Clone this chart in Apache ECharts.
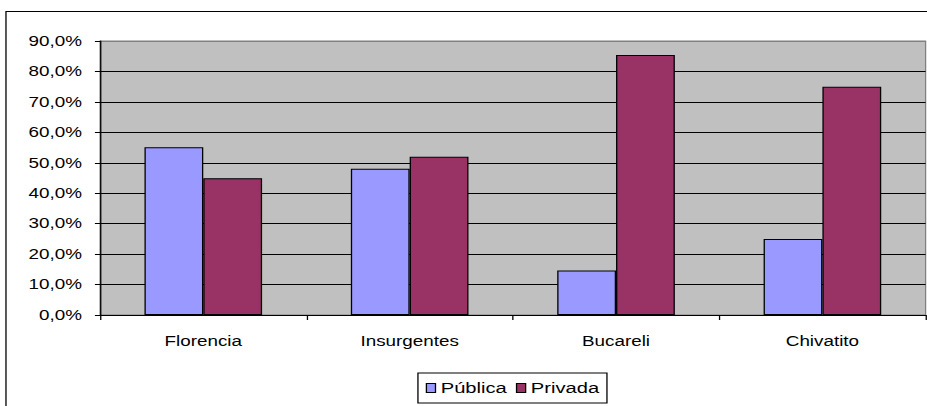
<!DOCTYPE html>
<html>
<head>
<meta charset="utf-8">
<script src="https://cdn.jsdelivr.net/npm/echarts@6/dist/echarts.min.js"></script>
<style>
  html, body { margin: 0; padding: 0; background: #fff; overflow: hidden; width: 927px; height: 406px; }
  /* The chart is laid out narrower and stretched horizontally, giving the wide lettering. */
  #chart { width: 713px; height: 406px; transform: scale(1.3, 1); transform-origin: 0 0; }
</style>
</head>
<body>
<div id="chart"></div>
<script>
// Share of public vs. private, by site
const categories = ['Florencia', 'Insurgentes', 'Bucareli', 'Chivatito'];
const publica = [55.1, 48.0, 14.6, 25.0];
const privada = [44.9, 52.0, 85.4, 75.0];
const seriesNames = ['Pública', 'Privada'];

const chart = echarts.init(document.getElementById('chart'), null, { renderer: 'svg' });
const font = 'Liberation Sans, Arial, sans-serif';

// Ten split lines (0..90): all black except the top one, which is the grey plot border.
const splitColors = [];
for (let i = 0; i < 9; i++) splitColors.push('#000000');
splitColors.push('#808080');

chart.setOption({
  animation: false,
  backgroundColor: '#ffffff',
  graphic: [{
    type: 'rect',
    shape: { x: 4.6, y: 11.5, width: 1000, height: 500 },
    style: { fill: 'none', stroke: '#000000', lineWidth: 1 },
    z: -1
  }],
  grid: {
    left: 77, top: 41, right: 1, bottom: 91,
    show: true,
    backgroundColor: '#C0C0C0',
    borderColor: '#808080',
    borderWidth: 1
  },
  legend: {
    data: seriesNames,
    left: 321.5, top: 373,
    padding: [7, 6, 7, 6],
    itemGap: 7,
    itemWidth: 7, itemHeight: 9,
    icon: 'rect',
    borderColor: '#000000', borderWidth: 1,
    backgroundColor: '#ffffff',
    textStyle: { fontFamily: font, fontSize: 15.5, color: '#000000', padding: [0, 0, 0, -1] },
    itemStyle: { borderColor: '#000000', borderWidth: 1 }
  },
  xAxis: {
    type: 'category',
    data: categories,
    boundaryGap: true,
    axisLine: { show: true, lineStyle: { color: '#000000', width: 1 } },
    axisTick: { show: true, length: 5, lineStyle: { color: '#000000' } },
    axisLabel: { fontFamily: font, fontSize: 14.5, color: '#000000', margin: 19 },
    splitLine: { show: false }
  },
  yAxis: {
    type: 'value',
    min: 0, max: 90, interval: 10,
    axisLine: { show: true, lineStyle: { color: '#000000', width: 1 } },
    axisTick: { show: true, length: 4, lineStyle: { color: '#000000' } },
    axisLabel: {
      fontFamily: font, fontSize: 14.5, color: '#000000', margin: 14,
      formatter: v => v.toFixed(1).replace('.', ',') + '%'
    },
    splitLine: { show: true, lineStyle: { color: splitColors, width: 1 } }
  },
  series: [
    {
      name: seriesNames[0], type: 'bar', data: publica,
      barGap: '0%', barCategoryGap: '43%',
      itemStyle: { color: '#9999FF', borderColor: '#000000', borderWidth: 1 }
    },
    {
      name: seriesNames[1], type: 'bar', data: privada,
      barGap: '0%', barCategoryGap: '43%',
      itemStyle: { color: '#993366', borderColor: '#000000', borderWidth: 1 }
    }
  ]
});
</script>
</body>
</html>
